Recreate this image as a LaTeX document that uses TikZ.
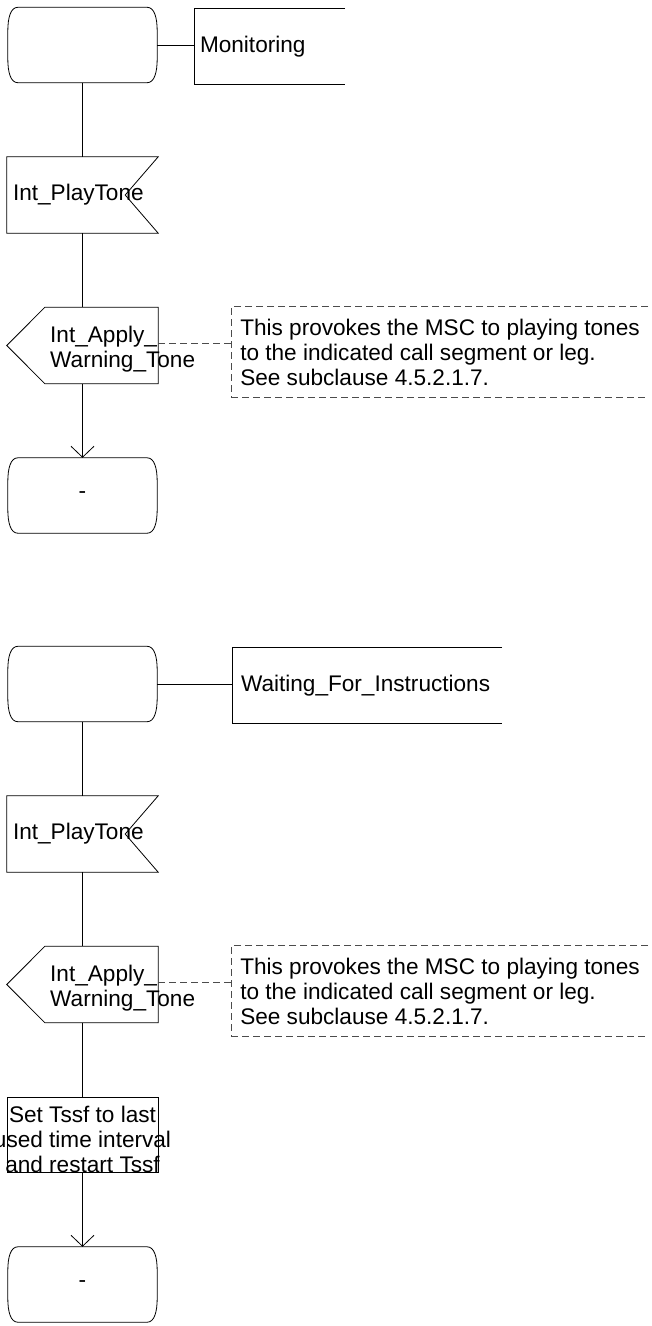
\documentclass[tikz,border=0pt]{standalone}
\usepackage{fontspec}
\setmainfont{Liberation Sans}
\usetikzlibrary{arrows.meta,positioning}

\tikzset{
  sdl/.style={line width=0.8pt},
  state/.style={minimum width=149pt, minimum height=75pt, inner sep=0pt},
  sigbox/.style={minimum width=151pt, minimum height=76pt, inner sep=0pt},
  task/.style={sdl, draw, minimum width=151pt, minimum height=75pt, inner sep=0pt},
  note/.style={line width=0.8pt, draw=black!70, dash pattern=on 7pt off 4pt},
  notebox/.style={minimum width=416pt, minimum height=90pt, inner sep=0pt, align=left},
  flow/.style={sdl, -{Straight Barb[length=11pt,width=23pt]}},
}
% outline of an SDL state symbol around node #1
\newcommand{\stateoutline}[1]{%
  \draw[sdl] ([xshift=10pt]#1.north west) -- ([xshift=-10pt]#1.north east)
    .. controls ([xshift=-3pt]#1.north east) and ([yshift=-10pt]#1.north east) .. ([yshift=-24pt]#1.north east)
    -- ([yshift=24pt]#1.south east)
    .. controls ([yshift=10pt]#1.south east) and ([xshift=-3pt]#1.south east) .. ([xshift=-10pt]#1.south east)
    -- ([xshift=10pt]#1.south west)
    .. controls ([xshift=3pt]#1.south west) and ([yshift=10pt]#1.south west) .. ([yshift=24pt]#1.south west)
    -- ([yshift=-24pt]#1.north west)
    .. controls ([yshift=-10pt]#1.north west) and ([xshift=3pt]#1.north west) .. cycle;}

\begin{document}
\begin{tikzpicture}[x=1pt,y=-1pt,font=\fontsize{22.6pt}{25pt}\selectfont]
\useasboundingbox (0,0) rectangle (651,1326);

% upper diagram
\node[state] (st1) at (82.5,45) {};
\stateoutline{st1}
\node[sigbox, minimum width=150pt, text width=140pt, inner xsep=5pt, align=left] (mon1) at (270,46.5) {Monitoring};
\draw[sdl] (mon1.north east) -- (mon1.north west) -- (mon1.south west) -- (mon1.south east);
\draw[sdl] (st1.east) -- (st1.east -| mon1.west);

\node[sigbox, text width=139pt, inner xsep=6pt, align=left] (in1) at (82.5,195) {Int\_PlayTone};
\draw[sdl] (in1.north west) -- (in1.north east) -- ([xshift=-33pt]in1.east) -- (in1.south east) -- (in1.south west) -- cycle;

\node[sigbox] (out1) at (82.5,345.5) {};
\draw[sdl] (out1.west) -- ([xshift=38pt]out1.north west) -- (out1.north east) -- (out1.south east) -- ([xshift=38pt]out1.south west) -- cycle;
\node[anchor=west, align=left, inner sep=0pt] (out1t) at (50,349) {Int\_Apply\_\\Warning\_Tone};

\node[notebox] (cm1) at (440,352)
  {This provokes the MSC to playing tones\\to the indicated call segment or leg.\\See subclause 4.5.2.1.7.};
\draw[note] (cm1.north east) -- (cm1.north west) -- (cm1.south west) -- (cm1.south east);
\draw[note] ([yshift=2pt]out1.east) -- ([yshift=2pt]out1.east -| cm1.west);

\node[state] (end1) at (82.5,495.5) {-};
\stateoutline{end1}

\draw[sdl] (st1.south) -- (in1.north);
\draw[sdl] (in1.south) -- (out1.north);
\draw[flow] (out1.south) -- (end1.north);

% lower diagram
\node[state] (st2) at (82.5,684) {};
\stateoutline{st2}
\node[sigbox, minimum width=269pt, text width=253pt, inner xsep=8pt, align=left] (wait2) at (367.5,685.5) {Waiting\_For\_Instructions};
\draw[sdl] (wait2.north east) -- (wait2.north west) -- (wait2.south west) -- (wait2.south east);
\draw[sdl] (st2.east) -- (st2.east -| wait2.west);

\node[sigbox, text width=139pt, inner xsep=6pt, align=left] (in2) at (82.5,834) {Int\_PlayTone};
\draw[sdl] (in2.north west) -- (in2.north east) -- ([xshift=-33pt]in2.east) -- (in2.south east) -- (in2.south west) -- cycle;

\node[sigbox] (out2) at (82.5,984.5) {};
\draw[sdl] (out2.west) -- ([xshift=38pt]out2.north west) -- (out2.north east) -- (out2.south east) -- ([xshift=38pt]out2.south west) -- cycle;
\node[anchor=west, align=left, inner sep=0pt] (out2t) at (50,988) {Int\_Apply\_\\Warning\_Tone};

\node[notebox] (cm2) at (440,991)
  {This provokes the MSC to playing tones\\to the indicated call segment or leg.\\See subclause 4.5.2.1.7.};
\draw[note] (cm2.north east) -- (cm2.north west) -- (cm2.south west) -- (cm2.south east);
\draw[note] ([yshift=2pt]out2.east) -- ([yshift=2pt]out2.east -| cm2.west);

\node[task] (task2) at (82.5,1134.5) {};
\node[align=center, inner sep=0pt] (task2t) at (82.5,1139) {Set Tssf to last\\used time interval\\and restart Tssf};

\node[state] (end2) at (82.5,1284.5) {-};
\stateoutline{end2}

\draw[sdl] (st2.south) -- (in2.north);
\draw[sdl] (in2.south) -- (out2.north);
\draw[sdl] (out2.south) -- (task2.north);
\draw[flow] (task2.south) -- (end2.north);
\end{tikzpicture}
\end{document}
